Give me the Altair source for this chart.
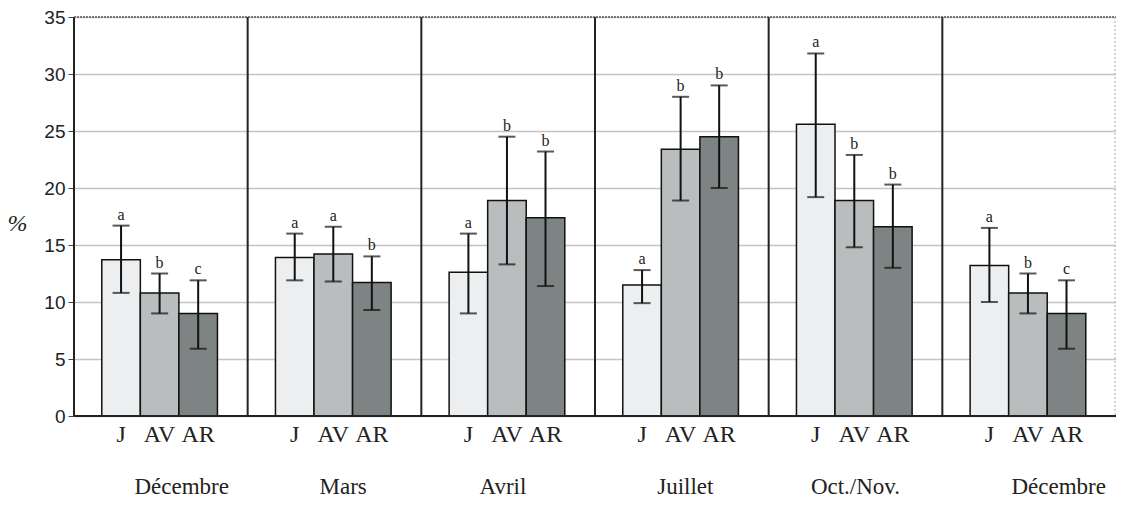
import altair as alt
import pandas as pd

# ---- data ----
months = ["Décembre", "Mars", "Avril", "Juillet", "Oct./Nov.", "Décembre"]
series = ["J", "AV", "AR"]

j_mean = [13.7, 13.9, 12.6, 11.5, 25.6, 13.2]
j_low = [10.8, 11.9, 9.0, 9.9, 19.2, 10.0]
j_high = [16.7, 16.0, 16.0, 12.8, 31.8, 16.5]
j_letter = ["a", "a", "a", "a", "a", "a"]

av_mean = [10.8, 14.2, 18.9, 23.4, 18.9, 10.8]
av_low = [9.0, 11.8, 13.3, 18.9, 14.8, 9.0]
av_high = [12.5, 16.6, 24.5, 28.0, 22.9, 12.5]
av_letter = ["b", "a", "b", "b", "b", "b"]

ar_mean = [9.0, 11.7, 17.4, 24.5, 16.6, 9.0]
ar_low = [5.9, 9.3, 11.4, 20.0, 13.0, 5.9]
ar_high = [11.9, 14.0, 23.2, 29.0, 20.3, 11.9]
ar_letter = ["c", "b", "b", "b", "b", "c"]

# ---- style / layout ----
colors = ["#eceef0", "#b9bdbd", "#7e8483"]
month_shift = [0.12, 0.05, -0.03, 0.02, 0.0, 0.17]
W, H = 1042, 399
PAD, BW = 0.16, 0.222

means = [j_mean, av_mean, ar_mean]
lows = [j_low, av_low, ar_low]
highs = [j_high, av_high, ar_high]
letters = [j_letter, av_letter, ar_letter]

rows = []
for g, m in enumerate(months):
    for k, s in enumerate(series):
        rows.append(dict(g=g, month=m, k=k, series=s, mean=means[k][g],
                         low=lows[k][g], high=highs[k][g], letter=letters[k][g], zero=0))
df = pd.DataFrame(rows)

xscale = alt.Scale(domain=[0, len(months)], nice=False, zero=False)
yscale = alt.Scale(domain=[0, 35], nice=False)
yaxis = alt.Axis(values=[0, 5, 10, 15, 20, 25, 30, 35], labelFont="Liberation Sans",
                 labelFontSize=19, labelColor="#222", tickSize=6, tickColor="#444",
                 labelPadding=3, domain=False, grid=True, gridColor="#c4c4c4",
                 gridWidth=1.3, title="%", titleAngle=0, titleFont="Liberation Serif",
                 titleFontSize=24, titleFontWeight="normal", titleFontStyle="italic",
                 titleColor="#222", titleX=-57, titleY=206, titleAlign="center",
                 titleBaseline="middle")


def Y(field):
    return alt.Y(field, scale=yscale, axis=yaxis)


base = alt.Chart(df).transform_calculate(
    xs=f"datum.g + {PAD} + datum.k * {BW}",
    xe=f"datum.g + {PAD} + (datum.k + 1) * {BW}",
    xc=f"datum.g + {PAD} + (datum.k + 0.5) * {BW}",
)

bars = base.mark_rect(stroke="#111", strokeWidth=1.5).encode(
    x=alt.X("xs:Q", scale=xscale, axis=None),
    x2="xe:Q",
    y=Y("mean:Q"),
    y2="zero:Q",
    color=alt.Color("series:N", scale=alt.Scale(domain=series, range=colors), legend=None),
)

err = base.mark_rule(color="#111", strokeWidth=2).encode(
    x=alt.X("xc:Q", scale=xscale, axis=None), y=Y("low:Q"), y2="high:Q")
cap_hi = base.mark_tick(orient="horizontal", size=17, thickness=2, color="#111").encode(
    x=alt.X("xc:Q", scale=xscale, axis=None), y=Y("high:Q"))
cap_lo = base.mark_tick(orient="horizontal", size=17, thickness=2, color="#111").encode(
    x=alt.X("xc:Q", scale=xscale, axis=None), y=Y("low:Q"))

lett = base.mark_text(font="Liberation Serif", fontSize=16, baseline="alphabetic",
                      dy=-6, color="#222").encode(
    x=alt.X("xc:Q", scale=xscale, axis=None), y=Y("high:Q"), text="letter:N")

ser_lab = base.mark_text(font="Liberation Serif", fontSize=24, baseline="alphabetic",
                         color="#222").encode(
    x=alt.X("xc:Q", scale=xscale, axis=None), y=alt.value(425), text="series:N")

dm = pd.DataFrame(dict(g=list(range(len(months))), month=months, shift=month_shift))
month_lab = alt.Chart(dm).transform_calculate(
    xm="datum.g + 0.5 + datum.shift").mark_text(
    font="Liberation Serif", fontSize=23, baseline="alphabetic", color="#222").encode(
    x=alt.X("xm:Q", scale=xscale, axis=None), y=alt.value(477), text="month:N")

dsep = pd.DataFrame(dict(b=list(range(len(months)))))
seps = alt.Chart(dsep).mark_rule(color="#222", strokeWidth=2).encode(
    x=alt.X("b:Q", scale=xscale, axis=None), y=alt.value(0), y2=alt.value(H))

frame = alt.Chart(pd.DataFrame(dict(a=[0]))).mark_rule(
    color="#555", strokeWidth=1.5, strokeDash=[2, 1]).encode(
    x=alt.value(0), x2=alt.value(W), y=alt.value(0))
right = alt.Chart(pd.DataFrame(dict(a=[0]))).mark_rule(
    color="#aaa", strokeWidth=1, strokeDash=[2, 2]).encode(
    x=alt.value(W - 1), y=alt.value(0), y2=alt.value(H))
bottom = alt.Chart(pd.DataFrame(dict(a=[0]))).mark_rule(
    color="#222", strokeWidth=2).encode(
    x=alt.value(0), x2=alt.value(W), y=alt.value(H))

chart = alt.layer(
    bars, err, cap_hi, cap_lo, lett, ser_lab, month_lab, seps, frame, right, bottom
).properties(
    width=W, height=H,
    padding={"left": 66, "top": 9, "right": 0, "bottom": 90},
    autosize=alt.AutoSizeParams(type="none"),
    background="white",
).configure_view(stroke=None)

chart.save("out.html", embed_options={"renderer": "svg", "actions": False})
